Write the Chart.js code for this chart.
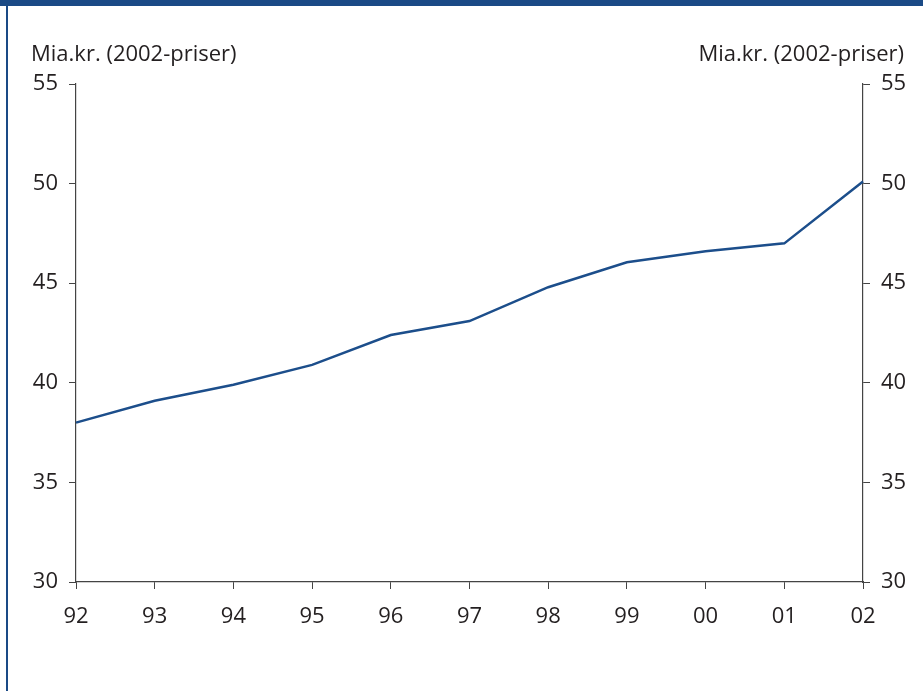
<!DOCTYPE html>
<html>
<head>
<meta charset="utf-8">
<script src="https://cdn.jsdelivr.net/npm/chart.js@4/dist/chart.umd.min.js"></script>
<style>
  html, body { margin: 0; padding: 0; background: #fff; }
  #wrap { position: relative; width: 923px; height: 691px; overflow: hidden; }
  #topbar { position: absolute; left: 0; top: 0; width: 923px; height: 6px; background: #1a4a86; }
  #leftbar { position: absolute; left: 6px; top: 0; width: 2px; height: 691px; background: #1a4a86; }
  canvas { position: absolute; left: 0; top: 0; }
</style>
</head>
<body>
<div id="wrap">
  <canvas id="c" width="923" height="691"></canvas>
  <div id="topbar"></div>
  <div id="leftbar"></div>
</div>
<script>
// Years shown on the x axis
const years = ['92', '93', '94', '95', '96', '97', '98', '99', '00', '01', '02'];
// Values in billion kroner, 2002 prices
const values = [38.0, 39.1, 39.9, 40.9, 42.4, 43.1, 44.8, 46.05, 46.6, 47.0, 50.1];
// Value axis range and step
const yMin = 30, yMax = 55, yStep = 5;
const unitLabel = 'Mia.kr. (2002-priser)';

const FONT = '"Open Sans", "Noto Sans", sans-serif';
const TEXT = '#231f20';
const AXIS = '#444444';

const unitTitles = {
  id: 'unitTitles',
  afterDraw(chart) {
    const ctx = chart.ctx;
    ctx.save();
    ctx.font = '22px ' + FONT;
    ctx.fillStyle = TEXT;
    ctx.textBaseline = 'alphabetic';
    ctx.textAlign = 'left';
    ctx.fillText(unitLabel, 31, 61);
    ctx.textAlign = 'right';
    ctx.fillText(unitLabel, 904, 61);
    ctx.restore();
  }
};

function yAxis(position, width) {
  return {
    type: 'linear',
    position,
    min: yMin,
    max: yMax,
    ticks: { stepSize: yStep, color: TEXT, font: { family: FONT, size: 22 }, padding: 11 },
    grid: { drawOnChartArea: false, drawTicks: true, tickLength: 7, color: AXIS, lineWidth: 1 },
    border: { display: true, color: AXIS, width: 1.2 },
    afterFit(scale) { scale.width = width; }
  };
}

new Chart(document.getElementById('c'), {
  type: 'line',
  data: {
    labels: years,
    datasets: [{
      data: values,
      borderColor: '#1c4e8b',
      borderWidth: 2.5,
      pointRadius: 0,
      tension: 0,
      fill: false
    }]
  },
  options: {
    responsive: false,
    animation: false,
    layout: { padding: { top: 84, left: 0, right: 0, bottom: 0 } },
    plugins: { legend: { display: false }, tooltip: { enabled: false } },
    scales: {
      x: {
        type: 'category',
        offset: false,
        ticks: { color: TEXT, font: { family: FONT, size: 22 }, padding: 15, maxRotation: 0, autoSkip: false },
        grid: { drawOnChartArea: false, drawTicks: true, tickLength: 7, color: AXIS, lineWidth: 1 },
        border: { display: true, color: AXIS, width: 1.2 },
        afterFit(scale) { scale.height = 109; }
      },
      y: yAxis('left', 76),
      y1: yAxis('right', 60)
    }
  },
  plugins: [unitTitles]
});
</script>
</body>
</html>
